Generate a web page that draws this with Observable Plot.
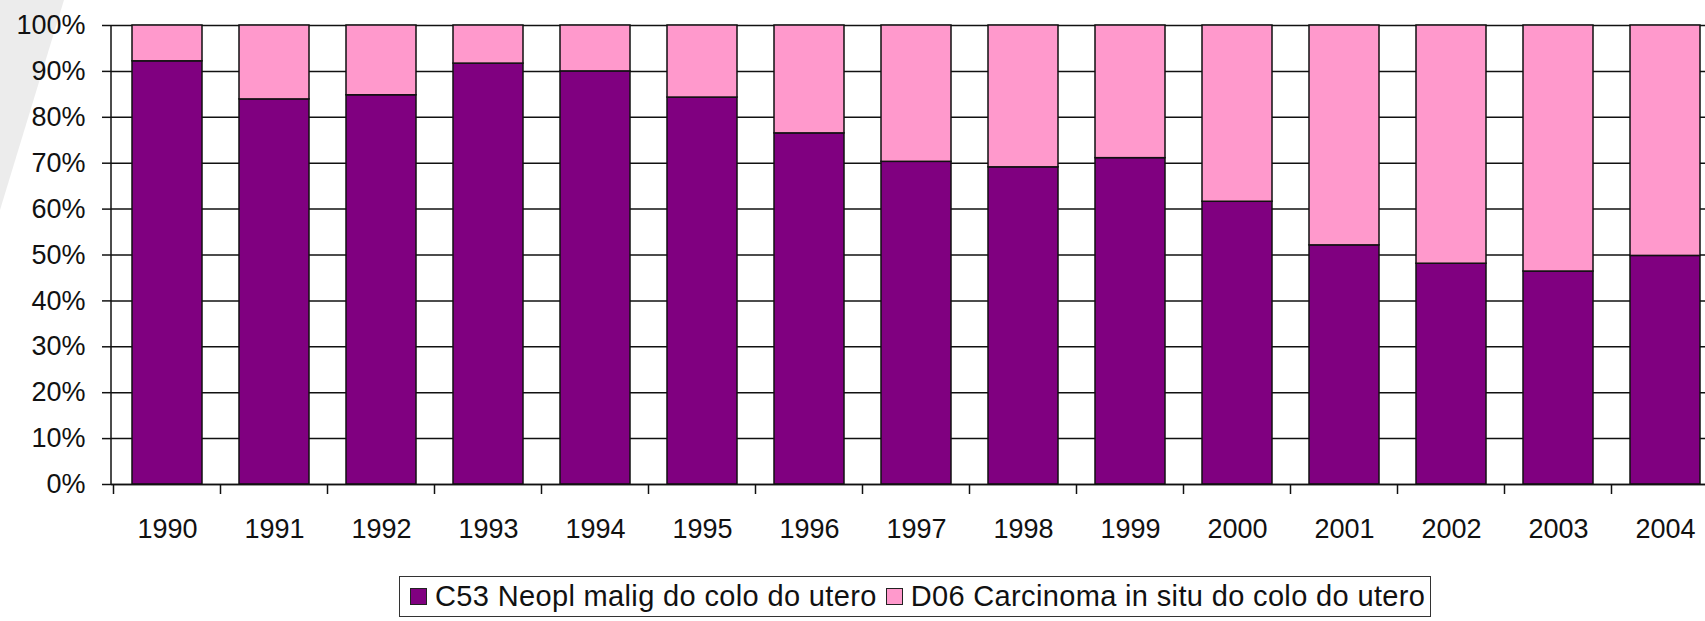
<!DOCTYPE html>
<html><head><meta charset="utf-8">
<script src="https://cdn.jsdelivr.net/npm/d3@7"></script>
<script src="https://cdn.jsdelivr.net/npm/@observablehq/plot@0.6"></script>
<style>
body{margin:0;background:#fff;width:1705px;height:621px;overflow:hidden;position:relative;font-family:"Liberation Sans",Arial,sans-serif;}
#swoosh{position:absolute;left:0;top:0;width:80px;height:230px;background:#ececec;clip-path:polygon(0 0,64px 0,0 210px);}
#chart{position:absolute;left:0;top:0;}
#legend{position:absolute;left:399px;top:576px;border:1px solid #333;display:flex;align-items:center;padding:3px 5px 3px 10px;font-size:29px;letter-spacing:0.35px;color:#111;background:#fff;white-space:nowrap;}
.sw{width:15px;height:15px;border:1px solid #222;margin-right:8px;flex:none;}
.item{display:flex;align-items:center;margin-right:9px;}
.item:last-child{margin-right:0;}
</style></head>
<body>
<div id="swoosh"></div>
<div id="chart"></div>
<div id="legend"></div>
<script>
const years = ["1990","1991","1992","1993","1994","1995","1996","1997","1998","1999","2000","2001","2002","2003","2004"];
const c53 = [92.2, 83.9, 84.8, 91.7, 90.0, 84.3, 76.5, 70.3, 69.1, 71.1, 61.6, 52.1, 48.1, 46.4, 49.8];
const d06 = [7.8, 16.1, 15.2, 8.3, 10.0, 15.7, 23.5, 29.7, 30.9, 28.9, 38.4, 47.9, 51.9, 53.6, 50.2];
const seriesNames = ["C53 Neopl malig do colo do utero", "D06 Carcinoma in situ do colo do utero"];
const seriesColors = ["#800080", "#ff99cc"];
const yTicks = [0, 10, 20, 30, 40, 50, 60, 70, 80, 90, 100];

const data = years.flatMap((yr, i) => [
  {year: yr, series: seriesNames[0], value: c53[i]},
  {year: yr, series: seriesNames[1], value: d06[i]}
]);

const chart = Plot.plot({
  width: 1705, height: 560,
  marginTop: 25, marginBottom: 76, marginLeft: 111, marginRight: -15,
  style: {background: "transparent", fontFamily: "'Liberation Sans', Arial, sans-serif", fontSize: "27px", color: "#111", overflow: "visible"},
  x: {domain: years, paddingInner: 0.35, paddingOuter: 0.175, align: 0.5, label: null},
  y: {domain: [0, 100], label: null},
  color: {domain: seriesNames, range: seriesColors},
  marks: [
    Plot.frame({fill: "white", stroke: "none"}),
    Plot.gridY(yTicks, {stroke: "#111", strokeOpacity: 1, strokeWidth: 1.5}),
    Plot.barY(data, {x: "year", y: "value", fill: "series", stroke: "#111", strokeWidth: 1.5}),
    Plot.axisY(yTicks, {tickSize: 9, tickPadding: 17, tickFormat: d => d + "%", fontSize: 27, strokeWidth: 1.5}),
    Plot.axisX({tickSize: 0, tickPadding: 34, fontSize: 27}),
    Plot.ruleY([0], {stroke: "#111", strokeWidth: 1.5})
  ]
});
document.getElementById("chart").append(chart);

// y-axis line and category boundary ticks, placed with the plot's own scales
const xs = chart.scale("x"), ysc = chart.scale("y");
const svg = d3.select(chart);
const gap = (xs.step - xs.bandwidth) / 2;
const yBase = ysc.apply(0), yTop = ysc.apply(100);
svg.append("line")
  .attr("x1", xs.range[0]).attr("x2", xs.range[0])
  .attr("y1", yTop).attr("y2", yBase)
  .attr("stroke", "#111").attr("stroke-width", 1.5);
const bounds = years.map(yr => xs.apply(yr) - gap);
bounds.push(xs.apply(years[years.length - 1]) + xs.bandwidth + gap);
svg.append("g").selectAll("line").data(bounds).join("line")
  .attr("x1", d => d).attr("x2", d => d)
  .attr("y1", yBase).attr("y2", yBase + 10)
  .attr("stroke", "#111").attr("stroke-width", 1.5);

// legend
const legend = d3.select("#legend");
seriesNames.forEach((name, i) => {
  const item = legend.append("div").attr("class", "item");
  item.append("div").attr("class", "sw").style("background", seriesColors[i]);
  item.append("span").text(name);
});
</script>
</body></html>
